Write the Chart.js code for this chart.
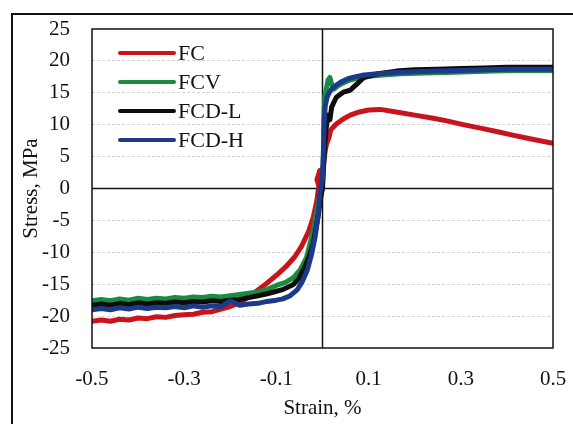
<!DOCTYPE html>
<html>
<head>
<meta charset="utf-8">
<script src="https://cdn.jsdelivr.net/npm/chart.js@4"></script>
<style>
  html, body { margin: 0; padding: 0; background: #fff; }
  #wrap { position: relative; width: 573px; height: 424px; }
</style>
</head>
<body>
<div id="wrap"><canvas id="chart"></canvas></div>
<script>
// ── data (strain %, stress MPa) ──
const seriesNames = ['FC', 'FCV', 'FCD-L', 'FCD-H'];
const seriesColors = ['#c8141c', '#1d8a43', '#0d0d0d', '#1b3a8a'];

const xTicks = [-0.5, -0.3, -0.1, 0.1, 0.3, 0.5];
const yTicks = [-25, -20, -15, -10, -5, 0, 5, 10, 15, 20, 25];

const fcStrain = [-0.5, -0.48, -0.46, -0.44, -0.42, -0.4, -0.38, -0.36, -0.34, -0.32, -0.3, -0.28, -0.26, -0.24, -0.22, -0.2, -0.18, -0.16, -0.14, -0.12, -0.1, -0.08, -0.06, -0.045, -0.03, -0.02, -0.012, -0.008, -0.012, -0.006, -0.009, -0.002, 0.002, 0.004, 0.008, 0.014, 0.018, 0.03, 0.045, 0.06, 0.08, 0.1, 0.125, 0.16, 0.2, 0.24, 0.27, 0.3, 0.34, 0.38, 0.41, 0.45, 0.5];
const fcStress = [-20.8, -20.6, -20.8, -20.5, -20.6, -20.3, -20.4, -20.1, -20.2, -19.9, -19.8, -19.7, -19.4, -19.3, -18.9, -18.5, -17.9, -17.0, -15.9, -14.8, -13.6, -12.3, -10.7, -9.0, -6.7, -4.5, -1.8, 0.4, 1.4, 2.8, 1.2, 2.4, 3.6, 5.0, 6.8, 8.0, 9.2, 10.1, 10.9, 11.5, 12.0, 12.3, 12.4, 12.0, 11.5, 11.0, 10.6, 10.1, 9.5, 8.9, 8.4, 7.8, 7.1];

const fcvStrain = [-0.5, -0.48, -0.46, -0.44, -0.42, -0.4, -0.38, -0.36, -0.34, -0.32, -0.3, -0.28, -0.26, -0.24, -0.22, -0.2, -0.18, -0.16, -0.14, -0.12, -0.1, -0.08, -0.064, -0.049, -0.035, -0.027, -0.018, -0.012, -0.004, 0.0, 0.002, 0.003, 0.005, 0.008, 0.012, 0.016, 0.02, 0.025, 0.03, 0.04, 0.06, 0.08, 0.1, 0.13, 0.17, 0.22, 0.27, 0.32, 0.37, 0.42, 0.46, 0.5];
const fcvStress = [-17.6, -17.4, -17.6, -17.3, -17.5, -17.2, -17.4, -17.2, -17.3, -17.1, -17.2, -17.0, -17.1, -16.9, -17.0, -16.8, -16.6, -16.4, -16.2, -15.8, -15.2, -14.7, -14.0, -12.8, -10.9, -8.6, -5.8, -3.4, -0.3, 0.5, 5.0, 11.0, 14.5, 15.5, 17.0, 17.4, 16.3, 15.6, 15.9, 16.4, 17.0, 17.4, 17.6, 17.8, 18.0, 18.1, 18.2, 18.3, 18.4, 18.5, 18.5, 18.5];

const fcdlStrain = [-0.5, -0.48, -0.46, -0.44, -0.42, -0.4, -0.38, -0.36, -0.34, -0.32, -0.3, -0.28, -0.26, -0.24, -0.22, -0.2, -0.18, -0.16, -0.14, -0.12, -0.1, -0.085, -0.064, -0.052, -0.042, -0.03, -0.02, -0.01, -0.004, 0.0, 0.002, 0.005, 0.008, 0.012, 0.016, 0.02, 0.03, 0.045, 0.06, 0.072, 0.09, 0.12, 0.16, 0.2, 0.25, 0.3, 0.35, 0.4, 0.45, 0.5];
const fcdlStress = [-18.3, -18.1, -18.3, -18.0, -18.2, -17.9, -18.1, -17.9, -18.0, -17.8, -17.9, -17.7, -17.8, -17.6, -17.7, -17.5, -17.4, -17.1, -16.8, -16.5, -16.1, -15.8, -15.1, -14.2, -12.8, -10.9, -8.6, -4.5, -1.5, 0.0, 3.0, 7.0, 9.5, 11.5, 10.8, 12.8, 14.3, 15.1, 15.4, 16.2, 17.4, 18.0, 18.4, 18.6, 18.7, 18.8, 18.9, 19.0, 19.0, 19.0];

const fcdhStrain = [-0.5, -0.48, -0.46, -0.44, -0.42, -0.4, -0.38, -0.36, -0.34, -0.32, -0.3, -0.28, -0.26, -0.24, -0.22, -0.2, -0.18, -0.16, -0.14, -0.12, -0.1, -0.086, -0.07, -0.055, -0.044, -0.033, -0.024, -0.016, -0.01, -0.005, 0.0, 0.002, 0.004, 0.006, 0.01, 0.015, 0.02, 0.03, 0.04, 0.055, 0.07, 0.09, 0.12, 0.16, 0.2, 0.25, 0.3, 0.35, 0.4, 0.45, 0.5];
const fcdhStress = [-19.0, -18.8, -19.0, -18.7, -18.9, -18.6, -18.8, -18.6, -18.7, -18.5, -18.7, -18.4, -18.6, -18.4, -18.5, -17.6, -18.3, -18.1, -18.0, -17.7, -17.5, -17.3, -16.8, -15.9, -14.6, -12.8, -10.4, -7.6, -4.5, -0.2, 1.5, 6.0, 11.0, 13.0, 14.3, 15.1, 15.6, 16.2, 16.7, 17.2, 17.5, 17.8, 18.0, 18.2, 18.3, 18.4, 18.5, 18.6, 18.7, 18.7, 18.7];

const allStrain = [fcStrain, fcvStrain, fcdlStrain, fcdhStrain];
const allStress = [fcStress, fcvStress, fcdlStress, fcdhStress];

const serif = '"Liberation Serif", "Times New Roman", serif';

// Build datasets
const datasets = seriesNames.map((name, i) => ({
  label: name,
  data: allStrain[i].map((x, j) => ({ x: x, y: allStress[i][j] })),
  borderColor: seriesColors[i],
  backgroundColor: seriesColors[i],
  borderWidth: 5,
  pointRadius: 0,
  showLine: true,
  tension: 0,
  borderJoinStyle: 'round',
  borderCapStyle: 'round',
  order: seriesNames.length - i
}));

// Frame, zero axes and inline legend
const framePlugin = {
  id: 'framePlugin',
  beforeDatasetsDraw(chart) {
    const { ctx, chartArea: a, scales } = chart;
    const x0 = scales.x.getPixelForValue(0);
    const y0 = scales.y.getPixelForValue(0);
    ctx.save();
    ctx.strokeStyle = '#111';
    ctx.lineWidth = 1.5;
    ctx.beginPath();
    ctx.moveTo(a.left, y0); ctx.lineTo(a.right, y0);
    ctx.moveTo(x0, a.top); ctx.lineTo(x0, a.bottom);
    ctx.stroke();
    ctx.restore();
  },
  afterDatasetsDraw(chart) {
    const { ctx, chartArea: a } = chart;
    ctx.save();
    // plot frame
    ctx.strokeStyle = '#111';
    ctx.lineWidth = 1.5;
    ctx.strokeRect(a.left, a.top, a.right - a.left, a.bottom - a.top);
    // outer figure frame
    ctx.lineWidth = 2;
    ctx.beginPath();
    ctx.moveTo(12, chart.height);
    ctx.lineTo(12, 14);
    ctx.lineTo(chart.width, 14);
    ctx.stroke();
    // legend
    ctx.font = '22px ' + serif;
    ctx.textBaseline = 'middle';
    ctx.textAlign = 'left';
    chart.data.datasets.forEach((ds, i) => {
      const y = a.top + 24 + i * 29;
      ctx.strokeStyle = ds.borderColor;
      ctx.lineWidth = 4;
      ctx.lineCap = 'round';
      ctx.beginPath();
      ctx.moveTo(a.left + 28, y);
      ctx.lineTo(a.left + 82, y);
      ctx.stroke();
      ctx.fillStyle = '#111';
      ctx.fillText(ds.label, a.left + 86, y + 1);
    });
    ctx.restore();
  }
};

new Chart(document.getElementById('chart'), {
  type: 'scatter',
  data: { datasets: datasets },
  options: {
    responsive: true,
    maintainAspectRatio: false,
    animation: false,
    layout: { padding: { left: 0, right: 20, top: 29, bottom: 0 } },
    plugins: {
      legend: { display: false },
      tooltip: { enabled: false }
    },
    scales: {
      x: {
        type: 'linear',
        min: xTicks[0],
        max: xTicks[xTicks.length - 1],
        afterBuildTicks: (s) => { s.ticks = xTicks.map(v => ({ value: v })); },
        afterFit: (s) => { s.height = 76; s.paddingLeft = 0; s.paddingRight = 0; },
        grid: { display: false, drawTicks: false },
        border: { display: false },
        ticks: {
          padding: 19,
          color: '#111',
          font: { family: serif, size: 21 },
          callback: (v) => String(v)
        },
        title: {
          display: true,
          text: 'Strain, %',
          color: '#111',
          font: { family: serif, size: 21 },
          padding: { top: 0, bottom: 3 }
        }
      },
      y: {
        type: 'linear',
        min: yTicks[0],
        max: yTicks[yTicks.length - 1],
        afterBuildTicks: (s) => { s.ticks = yTicks.map(v => ({ value: v })); },
        afterFit: (s) => { s.width = 92; s.paddingTop = 0; s.paddingBottom = 0; },
        grid: {
          drawTicks: false,
          lineWidth: 1,
          color: (c) => (c.tick && (c.tick.value === 0 || Math.abs(c.tick.value) === 25)) ? 'rgba(0,0,0,0)' : 'rgba(160,160,160,0.45)'
        },
        border: { display: false, dash: [3, 2] },
        ticks: {
          padding: 22,
          color: '#111',
          font: { family: serif, size: 21 },
          callback: (v) => String(v)
        },
        title: {
          display: true,
          text: 'Stress, MPa',
          color: '#111',
          font: { family: serif, size: 21 },
          padding: { top: 19, bottom: 0 }
        }
      }
    }
  },
  plugins: [framePlugin]
});
</script>
</body>
</html>
